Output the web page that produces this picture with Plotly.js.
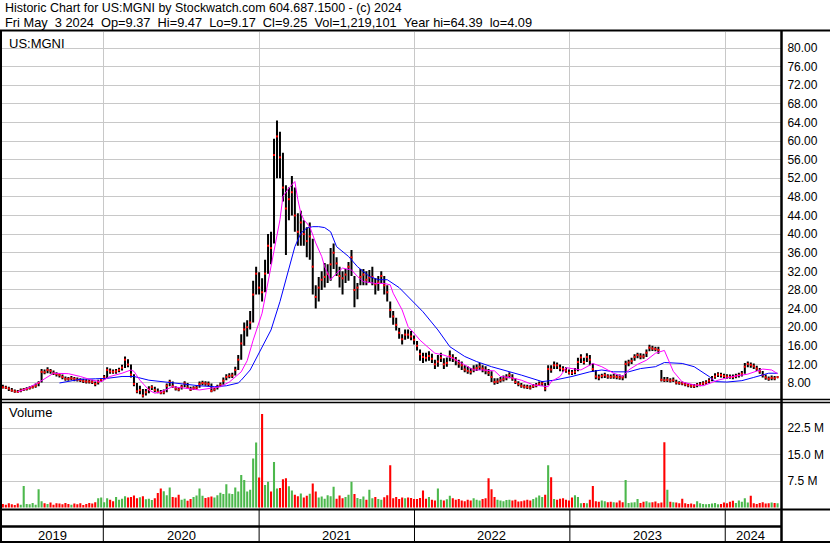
<!DOCTYPE html>
<html>
<head>
<meta charset="utf-8">
<script src="https://cdn.plot.ly/plotly-3.0.1.min.js"></script>
<style>html,body{margin:0;padding:0;background:#fff;}#chart{width:830px;height:543px;}</style>
</head>
<body>
<div id="chart"></div>
<script>
// ---- weekly bars (first week ends 2019-05-10) ----
const startDate = '2019-05-10';
const closeP = [
7.1,7.0,6.8,6.4,6.2,6.1,6.4,6.6,6.7,6.9,
7.1,7.4,8.0,10.4,10.3,10.8,10.6,10.1,9.9,9.7,
9.3,8.9,8.9,9.0,8.9,8.7,8.6,8.4,8.3,8.3,
8.2,7.8,8.2,8.7,9.2,10.8,10.5,10.4,10.5,10.8,
11.3,13.0,12.0,9.8,7.8,6.2,6.5,5.3,6.0,6.6,
7.1,6.5,6.1,5.9,6.0,7.4,8.2,7.3,6.8,6.6,
7.2,7.9,7.0,6.6,6.9,7.0,7.8,8.0,7.9,7.8,
6.3,6.6,7.2,7.6,8.5,9.3,9.5,9.6,10.8,13.0,
16.5,19.5,20.0,21.0,27.0,31.5,28.5,27.5,31.5,37.5,
37.0,57.0,61.0,56.5,50.0,45.5,47.5,49.0,44.0,40.5,
42.5,40.0,38.5,39.5,33.0,26.5,28.5,30.2,30.8,31.4,
33.5,36.0,33.7,31.0,30.5,31.3,33.0,35.0,28.0,28.5,
30.8,31.3,30.2,30.7,30.8,29.2,29.6,31.0,29.0,27.5,
23.7,22.3,20.5,18.8,17.4,18.4,18.4,18.0,17.3,16.0,
14.2,13.6,13.4,13.8,13.2,12.0,12.6,13.4,12.0,12.3,
13.8,13.4,12.9,12.2,11.8,10.9,10.6,10.4,10.9,11.2,
11.5,11.1,10.7,10.2,9.3,8.2,8.3,8.6,8.8,9.2,
9.7,9.0,8.2,7.8,7.4,7.2,7.1,7.0,7.3,7.5,
7.8,7.9,6.8,11.0,10.9,11.8,11.8,11.2,11.0,10.7,
10.2,10.2,10.4,12.5,13.5,12.5,13.6,13.0,11.0,9.4,
9.2,9.5,9.7,9.4,9.3,9.4,9.3,9.2,9.2,12.1,
12.4,12.7,13.6,14.0,13.7,13.7,14.5,15.6,15.4,15.3,
15.1,8.7,8.6,8.7,8.5,8.6,8.1,8.0,7.9,7.7,
7.5,7.4,7.3,7.6,7.7,7.9,8.1,8.5,8.9,9.4,
9.8,9.7,9.5,9.4,9.3,9.3,9.5,9.7,10.0,11.5,
12.1,11.9,11.6,11.1,10.5,9.7,9.2,8.9,9.1,9.0,
9.25];
const highP = [
7.6,7.4,7.2,6.9,6.6,6.5,6.8,6.9,7.1,7.3,
7.5,7.9,8.4,11.0,10.9,11.4,11.0,10.7,10.3,10.1,
9.8,9.4,9.3,9.5,9.3,9.2,9.0,8.9,8.8,8.8,
8.7,8.3,8.7,9.1,9.7,11.4,11.1,10.9,11.0,11.3,
11.9,13.7,13.1,12.0,9.9,8.0,7.4,6.7,6.7,7.3,
7.5,7.2,6.8,6.5,6.6,7.9,8.7,8.3,7.3,7.1,
7.6,8.4,8.0,7.2,7.3,7.5,8.3,8.5,8.4,8.3,
7.9,7.0,7.6,8.1,9.2,9.9,10.1,10.2,11.5,14.0,
18.5,21.0,21.5,23.5,30.0,33.0,31.8,30.5,34.5,40.0,
40.5,60.5,64.4,62.0,57.5,50.5,50.0,52.5,50.0,44.5,
45.0,43.0,41.5,42.5,39.0,29.0,30.8,32.0,33.8,33.5,
37.0,38.0,35.0,33.0,32.0,32.5,34.0,36.6,31.0,29.5,
32.5,32.5,32.0,32.3,33.0,30.5,31.0,32.0,31.0,29.0,
25.5,23.5,22.0,19.8,18.5,19.5,19.5,19.2,18.2,17.0,
15.2,14.5,14.5,14.8,14.3,13.0,14.0,14.5,13.3,13.5,
15.0,14.2,13.6,13.0,12.6,11.8,11.6,11.2,11.8,12.0,
12.3,11.8,11.6,11.0,10.5,9.0,9.0,9.3,9.6,9.9,
10.3,9.9,9.0,8.4,8.0,7.7,7.6,7.5,7.8,8.0,
8.3,8.4,8.0,11.8,11.8,12.6,12.4,12.0,11.6,11.4,
10.9,10.8,11.2,13.4,14.2,13.4,14.4,14.0,12.2,10.8,
9.8,10.0,10.2,9.9,9.8,10.0,9.8,9.8,9.6,12.8,
13.0,13.4,14.2,14.5,14.4,14.3,15.2,16.2,16.0,15.8,
15.8,10.8,9.3,9.3,9.0,9.2,8.7,8.4,8.3,8.1,
7.9,7.8,7.8,8.0,8.2,8.4,8.6,9.0,9.5,10.1,
10.3,10.2,10.0,9.9,9.8,9.8,10.0,10.2,10.6,12.3,
12.6,12.4,12.2,11.7,11.2,10.6,9.8,9.4,9.6,9.5,
9.47];
const lowP = [
6.8,6.7,6.3,6.1,5.9,5.9,6.0,6.3,6.4,6.6,
6.8,7.0,7.3,8.1,9.9,10.1,10.0,9.7,9.4,9.2,
8.8,8.5,8.5,8.6,8.4,8.3,8.2,8.0,7.9,7.9,
7.8,7.3,7.7,8.2,8.7,9.1,10.0,10.0,10.0,10.3,
10.7,11.2,11.4,9.2,7.3,5.8,5.6,4.9,5.3,5.8,
6.5,6.0,5.8,5.6,5.6,6.0,7.3,7.0,6.4,6.2,
6.6,7.1,6.8,6.3,6.5,6.6,7.0,7.5,7.4,7.3,
6.0,6.2,6.6,7.2,7.6,8.6,9.0,9.1,9.6,10.8,
13.0,16.0,18.0,19.5,21.0,27.0,27.0,25.5,27.5,31.5,
33.5,38.0,52.0,52.0,47.0,35.5,43.0,44.0,40.5,37.5,
37.5,37.5,35.0,34.5,27.0,24.0,25.5,28.0,28.5,29.5,
30.0,32.5,31.0,28.5,27.0,29.5,30.0,31.0,24.3,26.0,
29.0,29.0,29.0,29.5,29.0,27.0,27.8,29.5,27.0,25.5,
22.0,20.5,19.3,17.5,16.3,17.3,17.5,17.2,16.3,15.0,
12.8,12.3,12.6,12.8,12.3,11.0,11.5,12.5,11.0,11.5,
12.7,12.5,11.8,11.3,10.8,10.3,10.0,9.8,10.3,10.6,
10.8,10.3,9.9,9.5,8.2,7.6,7.8,8.1,8.3,8.6,
9.0,8.5,7.8,7.3,7.0,6.8,6.7,6.6,6.9,7.1,
7.4,7.4,6.2,7.5,10.2,11.0,11.0,10.5,10.4,10.2,
9.8,9.7,9.9,10.5,12.3,12.0,12.5,11.8,10.4,8.8,
8.6,9.0,9.1,8.9,8.9,8.9,8.8,8.7,8.6,9.0,
11.6,12.1,12.8,13.3,13.1,13.2,13.6,14.8,14.9,14.8,
14.3,8.3,8.2,8.2,8.1,8.2,7.7,7.6,7.5,7.3,
7.1,7.0,6.9,7.1,7.3,7.5,7.6,8.0,8.4,8.9,
9.3,9.2,9.0,8.9,8.9,8.8,9.0,9.2,9.4,10.0,
11.4,11.3,11.0,10.6,10.0,9.2,8.7,8.5,8.6,8.6,
9.17];
// daily-scale volume (millions) representative of each week
const volM = [
1.0,0.8,1.2,0.9,0.7,1.1,0.8,6.1,1.0,0.9,
1.3,0.8,5.2,1.8,1.2,1.0,1.4,0.8,1.2,1.1,
0.9,1.3,1.0,0.8,1.1,0.9,1.2,0.7,1.0,1.3,
1.1,1.5,2.6,2.8,1.5,2.6,2.2,1.8,3.0,2.2,
2.5,3.2,2.8,3.0,3.4,2.6,2.9,3.2,2.3,2.5,
2.1,2.6,4.1,5.4,4.6,3.5,5.7,3.0,2.8,3.6,
2.2,2.5,1.9,2.4,3.0,3.4,5.4,3.3,2.7,2.9,
3.1,2.8,3.5,4.2,3.8,6.6,4.0,3.8,5.7,4.5,
9.2,7.8,4.5,5.0,13.9,18.4,8.5,26.5,6.4,7.3,
4.5,12.9,5.4,5.5,8.0,8.3,6.0,4.8,3.6,3.2,
4.0,2.8,3.3,3.9,6.8,4.5,2.8,3.1,2.5,3.5,
3.2,5.9,2.5,3.4,2.6,3.0,3.6,7.3,3.8,2.7,
2.4,3.1,2.2,5.0,2.6,3.0,2.4,2.2,2.9,3.5,
12.0,2.6,3.0,2.4,2.8,2.6,2.8,2.7,2.4,2.4,
2.7,4.8,2.5,3.0,2.2,2.0,5.4,2.2,2.0,2.3,
3.3,2.6,2.2,2.4,2.0,1.8,2.2,2.0,2.6,2.2,
2.0,2.4,2.6,8.3,5.2,3.0,2.2,2.0,1.8,2.1,
2.2,2.0,2.2,1.7,1.8,2.0,2.2,2.0,2.4,2.8,
3.4,3.0,3.6,12.0,8.6,2.4,2.2,2.5,2.6,2.2,
2.0,2.8,3.5,3.0,1.2,1.3,1.2,2.2,6.1,1.8,
1.6,2.0,1.8,1.5,1.6,1.5,1.4,2.0,1.5,7.8,
1.3,1.4,1.5,2.4,1.3,1.6,1.8,1.4,1.5,1.7,
1.2,1.4,18.5,5.0,1.6,1.5,1.4,1.2,2.5,1.2,
1.0,1.1,0.9,1.8,1.2,1.0,0.9,1.0,1.1,1.3,
0.9,1.0,1.4,1.2,1.6,1.9,1.3,2.0,1.6,2.6,
1.4,3.3,1.2,1.0,1.3,1.5,1.1,1.2,1.4,1.3,
1.2];
// moving averages: week index / value
const maShortWeek = [5,8,12,15,17,22,26,30,33,36,40,43,44,46,49,51,53,57,62,66,71,73,76,80,82,84,87,89,91,93,94,96,98,99,100,101,103,105,107,108,110,112,114,117,119,121,125,128,130,131,134,136,138,140,143,145,148,151,155,158,161,165,167,171,174,178,183,184,187,189,194,198,201,205,208,210,213,216,219,222,225,228,232,235,240,245,250,255,258,260];
const maShortVal = [6.1,6.8,8.1,9.4,10.1,10.0,9.4,8.6,8.3,9.4,10.1,10.8,10.5,8.6,6.5,5.8,6.1,7.2,6.8,6.5,7.0,7.2,8.2,10.4,12.8,17.2,23.0,29.5,36.0,43.1,48.1,49.9,51.3,47.4,44.5,43.1,41.6,38.1,35.2,33.0,30.2,31.6,32.7,32.3,30.9,29.8,29.4,29.4,29.1,27.3,23.7,20.1,18.7,17.2,15.5,14.4,14.0,13.3,11.9,10.8,10.8,10.6,9.4,9.1,8.6,7.6,7.2,8.3,9.4,11.3,10.8,12.2,11.5,10.1,9.4,10.8,12.0,12.9,14.4,15.0,10.5,8.2,7.6,7.4,8.6,9.4,9.9,11.0,10.8,10.0];
const maLongWeek = [19,22,26,31,35,40,43,44,49,53,57,62,66,71,75,79,80,83,86,90,93,96,98,100,102,104,106,108,110,112,116,119,123,126,129,133,137,141,146,150,155,159,164,168,173,174,181,185,191,197,201,205,210,214,219,222,228,232,237,239,243,248,252,257,260];
const maLongVal = [8.0,8.3,8.8,8.9,9.0,9.4,9.5,9.4,8.6,8.3,8.0,7.6,7.4,7.2,7.4,8.0,8.6,10.8,14.4,19.4,25.5,32.3,37.3,40.2,41.3,41.6,41.6,41.4,40.5,37.3,35.2,33.0,30.9,30.2,30.2,28.5,26.0,23.3,19.4,15.8,13.7,12.6,11.5,10.8,9.9,9.7,8.3,8.6,9.4,10.4,10.8,10.4,10.4,11.1,11.5,12.4,12.2,11.5,9.4,8.3,8.2,8.5,9.2,10.1,10.1];
// axes
const priceTicks = [8,12,16,20,24,28,32,36,40,44,48,52,56,60,64,68,72,76,80];
const volTicks = [7.5,15,22.5];
const volTickText = ['7.5 M','15.0 M','22.5 M'];
const yearStarts = ['2020-01-01','2021-01-01','2022-01-01','2023-01-01','2024-01-01'];
const yearLabels = ['2019','2020','2021','2022','2023','2024'];
const yearLabelPos = ['2019-09-03','2020-07-02','2021-07-02','2022-07-02','2023-07-02','2024-03-01'];
const headerLine1 = 'Historic Chart for US:MGNI by Stockwatch.com 604.687.1500 - (c) 2024';
const headerLine2 = 'Fri May  3 2024  Op=9.37  Hi=9.47  Lo=9.17  Cl=9.25  Vol=1,219,101  Year hi=64.39  lo=4.09';

// ---- build ----
const dates = [];
const t0 = Date.parse(startDate + 'T00:00:00Z');
for (let i = 0; i < closeP.length; i++) dates.push(new Date(t0 + i * 7 * 86400000).toISOString().slice(0, 10));
const shortX = maShortWeek.map(i => dates[i]);
const longX = maLongWeek.map(i => dates[i]);
const volColors = closeP.map((c, i) => (i > 0 && c > closeP[i - 1]) ? '#4cb84c' : '#ff0000');

const W = 830, H = 543;
const px = x => x / W, py = y => 1 - y / H;
const FONT = 'Liberation Sans, Arial, sans-serif';

const traces = [
  {type:'ohlc', x:dates, open:closeP, high:highP, low:lowP, close:closeP, xaxis:'x', yaxis:'y',
   increasing:{line:{color:'#000', width:2}}, decreasing:{line:{color:'#000', width:2}}, tickwidth:0.2, hoverinfo:'skip'},
  {type:'scatter', mode:'markers', x:dates, y:closeP, xaxis:'x', yaxis:'y',
   marker:{symbol:'square', size:2, color:'#ff0000', line:{width:0}}, hoverinfo:'skip'},
  {type:'scatter', mode:'lines', x:longX, y:maLongVal, xaxis:'x', yaxis:'y', line:{color:'#0000ff', width:1}, hoverinfo:'skip'},
  {type:'scatter', mode:'lines', x:shortX, y:maShortVal, xaxis:'x', yaxis:'y', line:{color:'#ff00ff', width:1}, hoverinfo:'skip'},
  {type:'bar', x:dates, y:volM, xaxis:'x2', yaxis:'y2', marker:{color:volColors, line:{width:0}}, hoverinfo:'skip'}
];

const shapes = [];
const hline = (y, x0, x1, w) => shapes.push({type:'line', xref:'paper', yref:'paper', x0:px(x0), x1:px(x1), y0:py(y), y1:py(y), line:{color:'#000', width:w}});
const vline = (x, y0, y1, w) => shapes.push({type:'line', xref:'paper', yref:'paper', x0:px(x), x1:px(x), y0:py(y0), y1:py(y1), line:{color:'#000', width:w}});
hline(30.5, 0, 830, 2);
hline(399.5, 0, 830, 1.5);
hline(402.5, 0, 830, 1.5);
hline(509.5, 0, 830, 2);
hline(526.5, 0, 781, 2.5);
hline(542, 0, 830, 2);
vline(1, 30, 543, 2);
vline(781.5, 30, 543, 2.5);
yearStarts.forEach(d => shapes.push({type:'line', xref:'x', yref:'paper', x0:d, x1:d, y0:py(543), y1:py(510), line:{color:'#000', width:1}}));

const ann = [];
const txt = (t, x, y, size, anchor) => ann.push({text:t, xref:'paper', yref:'paper', x:px(x), y:py(y), xanchor:anchor||'left', yanchor:'middle', showarrow:false, font:{family:FONT, size:size, color:'#000'}});
txt(headerLine1, 3, 8, 12.45);
txt(headerLine2.replace(/ /g, '\u00a0'), 3, 22, 12.8);
txt('US:MGNI', 7, 43, 13);
txt('Volume', 7, 413, 13);
yearLabels.forEach((t, i) => ann.push({text:t, xref:'x', yref:'paper', x:yearLabelPos[i], y:py(535), xanchor:'center', yanchor:'middle', showarrow:false, font:{family:FONT, size:13, color:'#000'}}));

const xcommon = {type:'date', range:['2019-05-08','2024-05-11'], tickvals:yearStarts, showticklabels:false, ticks:'',
  showgrid:true, gridcolor:'#c8c8c8', gridwidth:1, zeroline:false, showline:false, domain:[px(2), px(781)], fixedrange:true};
const layout = {
  width:W, height:H, margin:{l:0, r:0, t:0, b:0}, paper_bgcolor:'#fff', plot_bgcolor:'#fff', showlegend:false,
  bargap:0.3, dragmode:false,
  xaxis: Object.assign({}, xcommon, {anchor:'y', rangeslider:{visible:false}}),
  xaxis2: Object.assign({}, xcommon, {anchor:'y2', matches:'x'}),
  yaxis: {domain:[py(399), py(32)], range:[4.56, 83.44], side:'right', anchor:'x', tickvals:priceTicks, ticktext:priceTicks.map(v => v.toFixed(2)),
    showgrid:true, gridcolor:'#c8c8c8', gridwidth:1, zeroline:false, showline:false, ticks:'outside', ticklen:3, tickcolor:'rgba(0,0,0,0)',
    tickfont:{family:FONT, size:12, color:'#000'}, fixedrange:true},
  yaxis2: {domain:[py(509.5), py(402)], range:[-0.57, 29.9], side:'right', anchor:'x2', tickvals:volTicks, ticktext:volTickText,
    showgrid:true, gridcolor:'#c8c8c8', gridwidth:1, zeroline:false, showline:false, ticks:'outside', ticklen:3, tickcolor:'rgba(0,0,0,0)',
    tickfont:{family:FONT, size:12, color:'#000'}, fixedrange:true},
  shapes: shapes,
  annotations: ann
};
Plotly.newPlot('chart', traces, layout, {staticPlot:true, displayModeBar:false});
</script>
</body>
</html>
